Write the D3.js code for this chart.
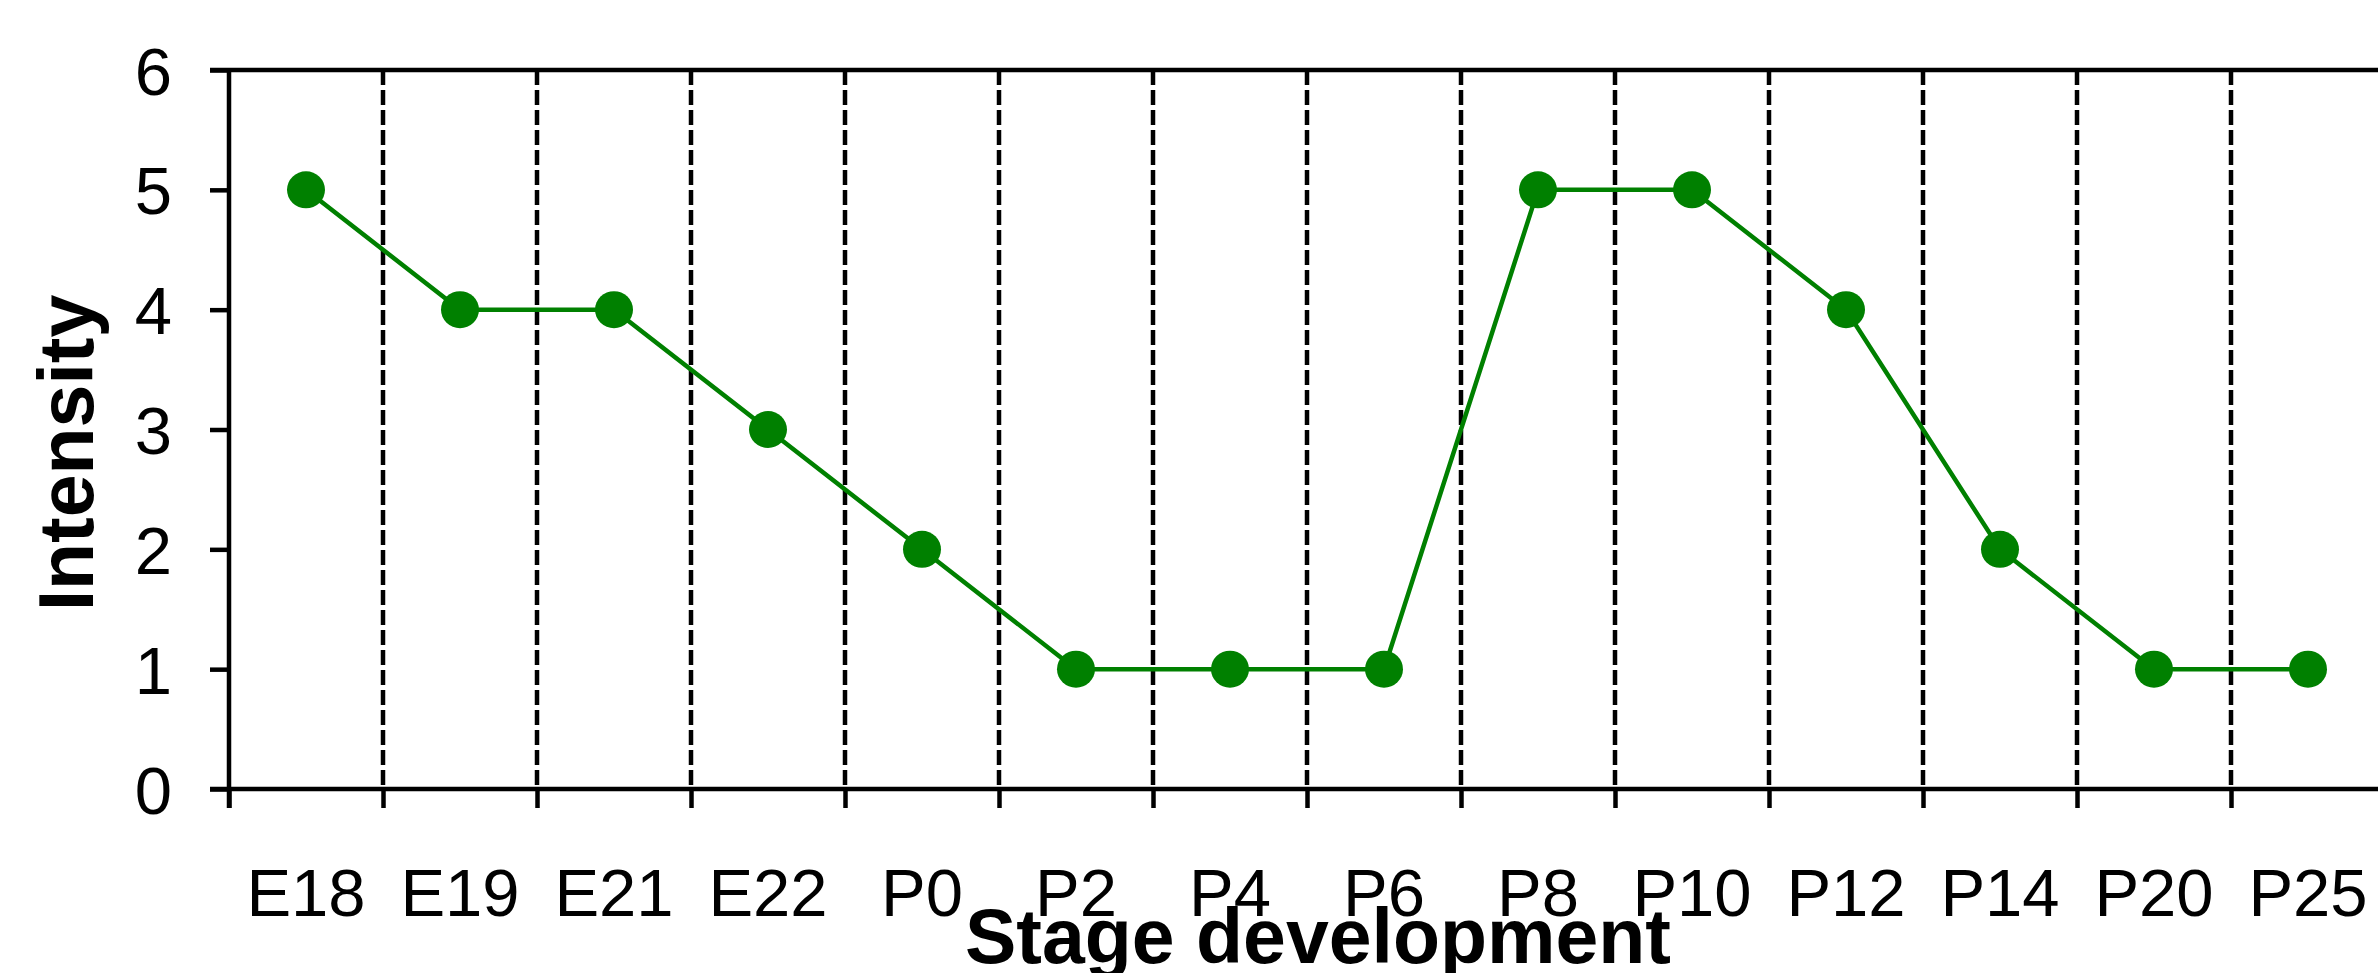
<!DOCTYPE html>
<html>
<head>
<meta charset="utf-8">
<script src="https://cdn.jsdelivr.net/npm/d3@7"></script>
<style>
  body { margin: 0; background: #fff; }
  svg { display: block; font-family: "Liberation Sans", Arial, sans-serif; }
  .axis text { font-size: 67px; fill: #000; }
  .axis line, .axis path { stroke: #000; stroke-width: 4.5; }
</style>
</head>
<body>
<svg id="chart"></svg>
<script>
// stages along the x axis
const stages = ["E18", "E19", "E21", "E22", "P0", "P2", "P4", "P6", "P8", "P10", "P12", "P14", "P20", "P25"];
// intensity per stage
const intensity = [5, 4, 4, 3, 2, 1, 1, 1, 5, 5, 4, 2, 1, 1];
const yTicks = [0, 1, 2, 3, 4, 5, 6];

const config = {
    width: 2378,
    height: 973,
    margin: {top: 70, left: 229},
    bandWidth: 154,
    plotHeight: 719,
    tick: 19
};

const data = stages.map((s, i) => ({stage: s, value: intensity[i]}));
const innerWidth = config.bandWidth * stages.length;

const svg = d3.select('#chart')
    .attr('width', config.width)
    .attr('height', config.height);

const g = svg.append('g')
    .attr('transform', `translate(${config.margin.left},${config.margin.top})`);

const xScale = d3.scaleBand()
    .domain(stages)
    .range([0, innerWidth])
    .padding(0);

// boundaries between stages
const xEdge = d3.scaleLinear()
    .domain([0, stages.length])
    .range([0, innerWidth]);

const yScale = d3.scaleLinear()
    .domain([0, 6])
    .range([config.plotHeight, 0]);

// dashed separators
g.append('g')
    .selectAll('line')
    .data(d3.range(1, stages.length))
    .join('line')
    .attr('x1', d => xEdge(d))
    .attr('x2', d => xEdge(d))
    .attr('y1', 0)
    .attr('y2', config.plotHeight)
    .attr('stroke', '#000')
    .attr('stroke-width', 4.5)
    .attr('stroke-dasharray', '15,5');

// y axis
const yAxis = d3.axisLeft(yScale)
    .tickValues(yTicks)
    .tickSize(config.tick)
    .tickPadding(38)
    .tickFormat(d3.format('d'));

const yAxisG = g.append('g')
    .attr('class', 'axis y-axis')
    .call(yAxis);
yAxisG.select('.domain').remove();
yAxisG.selectAll('text').attr('dy', '0.36em');

// left spine (runs down through the bottom tick)
g.append('line')
    .attr('x1', 0).attr('x2', 0)
    .attr('y1', 0).attr('y2', config.plotHeight + config.tick)
    .attr('stroke', '#000')
    .attr('stroke-width', 4.5);

// top spine
g.append('line')
    .attr('x1', -config.tick).attr('x2', innerWidth)
    .attr('y1', 0).attr('y2', 0)
    .attr('stroke', '#000')
    .attr('stroke-width', 4.5);

// bottom ticks at stage boundaries
const xTickAxis = d3.axisBottom(xEdge)
    .tickValues(d3.range(0, stages.length + 1))
    .tickSize(config.tick)
    .tickFormat('');

const xTickG = g.append('g')
    .attr('class', 'axis x-axis')
    .attr('transform', `translate(0,${config.plotHeight})`)
    .call(xTickAxis);
xTickG.select('.domain').remove();

g.append('line')
    .attr('x1', -config.tick).attr('x2', innerWidth)
    .attr('y1', config.plotHeight).attr('y2', config.plotHeight)
    .attr('stroke', '#000')
    .attr('stroke-width', 4.5);

// stage labels centred in each band
const xLabelAxis = d3.axisBottom(xScale)
    .tickSize(0)
    .tickPadding(79);

const xLabelG = g.append('g')
    .attr('class', 'axis x-labels')
    .attr('transform', `translate(0,${config.plotHeight})`)
    .call(xLabelAxis);
xLabelG.select('.domain').remove();

// line + dots
const line = d3.line()
    .x(d => xScale(d.stage) + xScale.bandwidth() / 2)
    .y(d => yScale(d.value));

g.append('path')
    .datum(data)
    .attr('fill', 'none')
    .attr('stroke', '#008000')
    .attr('stroke-width', 4.5)
    .attr('d', line);

g.append('g')
    .selectAll('ellipse')
    .data(data)
    .join('ellipse')
    .attr('cx', d => xScale(d.stage) + xScale.bandwidth() / 2)
    .attr('cy', d => yScale(d.value))
    .attr('rx', 19)
    .attr('ry', 18.5)
    .attr('fill', '#008000');

// axis titles
svg.append('text')
    .attr('x', 1318)
    .attr('y', 963)
    .attr('text-anchor', 'middle')
    .style('font-size', '77px')
    .style('font-weight', 'bold')
    .text('Stage development');

svg.append('text')
    .attr('transform', 'translate(93,453) rotate(-90)')
    .attr('text-anchor', 'middle')
    .style('font-size', '77px')
    .style('font-weight', 'bold')
    .text('Intensity');
</script>
</body>
</html>
